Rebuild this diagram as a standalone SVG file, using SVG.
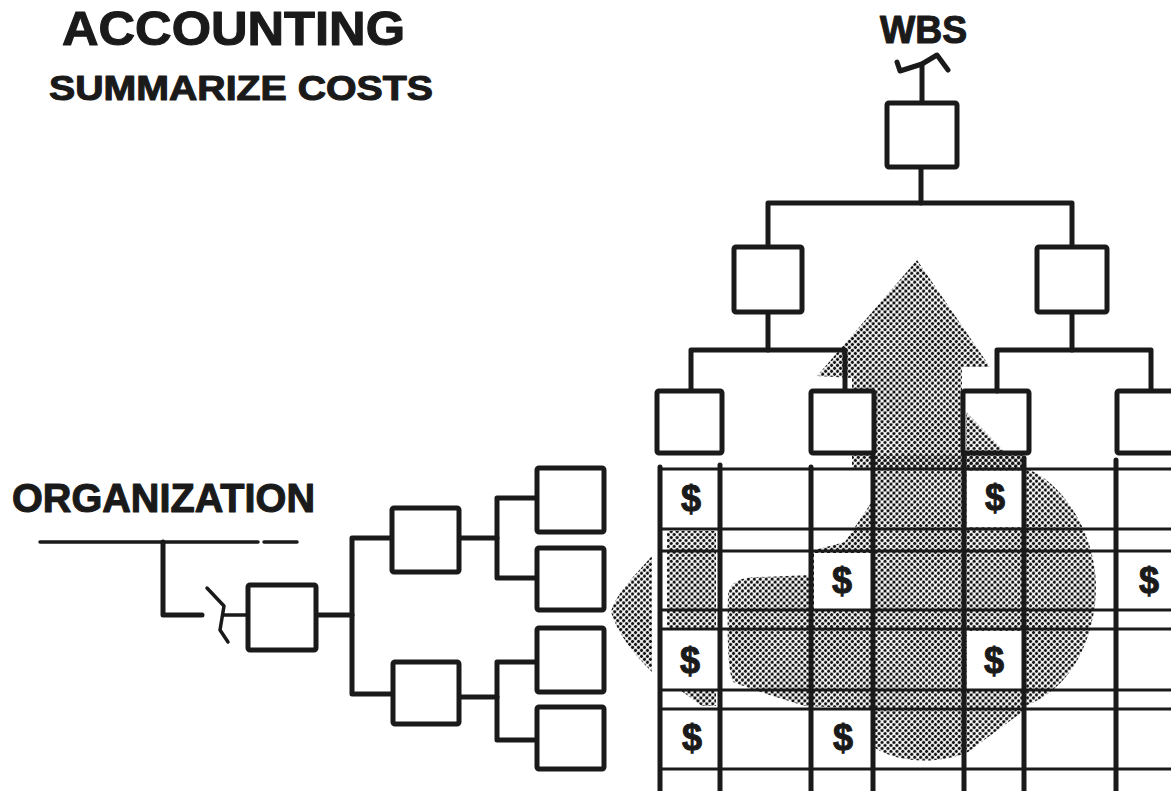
<svg xmlns="http://www.w3.org/2000/svg" width="1171" height="791" viewBox="0 0 1171 791">
<defs>
<pattern id="ht" width="4.2" height="4.2" patternUnits="userSpaceOnUse" patternTransform="rotate(45)">
<circle cx="2.1" cy="2.1" r="1.6" fill="#151515"/>
</pattern>
<style>
.t{font-family:"Liberation Sans",Arial,sans-serif;font-weight:bold;fill:#1a1a1a;stroke:#1a1a1a;stroke-width:1.1;stroke-linejoin:round}
.d{font-family:"Liberation Sans",Arial,sans-serif;font-weight:bold;font-size:36px;fill:#1a1a1a;text-anchor:middle;stroke:#1a1a1a;stroke-width:1}
.box{fill:#fff;stroke:#1a1a1a;stroke-width:5;stroke-linejoin:round}
.ln{fill:none;stroke:#1a1a1a;stroke-width:5;stroke-linecap:round;stroke-linejoin:round}
.thin{fill:none;stroke:#1a1a1a;stroke-width:3.5;stroke-linecap:round;stroke-linejoin:round}
.gv{stroke:#1a1a1a;stroke-width:5;stroke-linecap:round}
.gh{stroke:#1a1a1a;stroke-width:3;stroke-linecap:round}
.ht{fill:url(#ht);stroke:none}
.cell{fill:#fff;stroke:none}
</style>
</defs>
<rect width="1171" height="791" fill="#fff"/>

<g id="halftone">
<polygon class="ht" points="917,260 990,367 962,367 962,470 852,470 852,378 817,376"/>
<polygon class="ht" points="966,412 1004,451 966,451"/>
<rect class="ht" x="966" y="452" width="58" height="18"/>
<path class="ht" d="M873,455 L1022,455 L1025,468 C1060,480 1095,530 1096,585 C1096,640 1070,690 1025,706 L1022,712 L968,752 C940,764 900,764 875,748 L873,709 L805,706 C780,698 752,690 733,682 C728,670 727,640 728,595 C730,582 740,577 760,577 L811,575 L811,551 L845,542 L865,512 L873,500 Z"/>
<rect class="ht" x="667" y="531" width="49" height="98"/>
<polygon class="ht" points="680,690 716,690 716,706 702,706"/>
<path class="ht" d="M652,556 C635,575 615,595 611,612 C618,635 635,655 652,672 Z"/>
</g>

<g id="cells">
<rect class="cell" x="663" y="471" width="55" height="56"/>
<rect class="cell" x="967" y="471" width="55" height="56"/>
<rect class="cell" x="814" y="553" width="57" height="56"/>
<rect class="cell" x="663" y="631" width="55" height="58"/>
<rect class="cell" x="967" y="631" width="55" height="58"/>
<rect class="cell" x="663" y="711" width="55" height="57"/>
<rect class="cell" x="814" y="711" width="57" height="57"/>
</g>

<g id="grid">
<line class="gh" x1="660" y1="469" x2="1171" y2="469"/>
<line class="gh" x1="660" y1="529" x2="1171" y2="529"/>
<line class="gh" x1="660" y1="551" x2="1171" y2="551"/>
<line class="gh" x1="660" y1="610" x2="1171" y2="610"/>
<line class="gh" x1="660" y1="629" x2="1171" y2="629"/>
<line class="gh" x1="660" y1="690" x2="1171" y2="690"/>
<line class="gh" x1="660" y1="709" x2="1171" y2="709"/>
<line class="gh" x1="660" y1="769" x2="1171" y2="769"/>
<line class="gv" x1="660" y1="467" x2="660" y2="791"/>
<line class="gv" x1="720" y1="465" x2="720" y2="791"/>
<line class="gv" x1="811" y1="467" x2="811" y2="791"/>
<line class="gv" x1="873" y1="453" x2="873" y2="791"/>
<line class="gv" x1="964" y1="453" x2="964" y2="791"/>
<line class="gv" x1="1024" y1="458" x2="1024" y2="791"/>
<line class="gv" x1="1116" y1="460" x2="1116" y2="791"/>
</g>

<g id="dollars">
<text class="d" x="691" y="511">$</text>
<text class="d" x="995" y="510">$</text>
<text class="d" x="842" y="593">$</text>
<text class="d" x="1149" y="593">$</text>
<text class="d" x="690" y="673">$</text>
<text class="d" x="994" y="673">$</text>
<text class="d" x="692" y="750">$</text>
<text class="d" x="843" y="750">$</text>
</g>

<g id="connectors">
<path class="ln" d="M897,62 L900,71 L922,64 L937,55 L948,70"/>
<line class="ln" x1="922" y1="64" x2="922" y2="103"/>
<line class="ln" x1="921" y1="167" x2="921" y2="203"/>
<path class="ln" d="M768,247 L768,203 L1072,203 L1072,247"/>
<line class="ln" x1="768" y1="312" x2="768" y2="350"/>
<line class="ln" x1="1072" y1="312" x2="1072" y2="350"/>
<path class="ln" d="M691,391 L691,350 L845,350 L845,391"/>
<path class="ln" d="M997,391 L997,350 L1151,350 L1151,391"/>
<line class="thin" x1="40" y1="542" x2="258" y2="542"/>
<line class="thin" x1="264" y1="542" x2="297" y2="542"/>
<path class="ln" d="M163,542 L163,615 L202,615"/>
<path class="thin" d="M207,588 L224,606 L220,630 L228,642"/>
<line class="thin" x1="224" y1="615" x2="248" y2="615"/>
<line class="ln" x1="317" y1="615" x2="352" y2="615"/>
<path class="ln" d="M392,538 L352,538 L352,694 L393,694"/>
<line class="ln" x1="459" y1="538" x2="497" y2="538"/>
<path class="ln" d="M537,498 L497,498 L497,578 L537,578"/>
<line class="ln" x1="459" y1="697" x2="497" y2="697"/>
<path class="ln" d="M537,662 L497,662 L497,740 L537,740"/>
</g>

<g id="wbs-root"><rect class="box" x="887" y="103" width="70" height="64" rx="2"/></g>
<g id="wbs-l2a"><rect class="box" x="734" y="247" width="68" height="65" rx="2"/></g>
<g id="wbs-l2b"><rect class="box" x="1037" y="247" width="70" height="65" rx="2"/></g>
<g id="wbs-l3a"><rect class="box" x="657" y="391" width="65" height="62" rx="2"/></g>
<g id="wbs-l3b"><rect class="box" x="811" y="391" width="63" height="62" rx="2"/></g>
<g id="wbs-l3c"><rect class="box" x="963" y="391" width="66" height="62" rx="2" style="fill:none"/></g>
<g id="wbs-l3d"><rect class="box" x="1117" y="391" width="70" height="62" rx="2"/></g>

<g id="org-root"><rect class="box" x="248" y="585" width="68" height="65" rx="2"/></g>
<g id="org-a"><rect class="box" x="392" y="508" width="67" height="64" rx="2"/></g>
<g id="org-b"><rect class="box" x="393" y="662" width="66" height="62" rx="2"/></g>
<g id="org-a1"><rect class="box" x="537" y="468" width="67" height="64" rx="2"/></g>
<g id="org-a2"><rect class="box" x="537" y="548" width="67" height="62" rx="2"/></g>
<g id="org-b1"><rect class="box" x="537" y="628" width="67" height="64" rx="2"/></g>
<g id="org-b2"><rect class="box" x="537" y="707" width="67" height="62" rx="2"/></g>

<g id="titles">
<text class="t" x="62" y="45" font-size="48" textLength="343" lengthAdjust="spacingAndGlyphs">ACCOUNTING</text>
<text class="t" x="49" y="100" font-size="35" textLength="384" lengthAdjust="spacingAndGlyphs">SUMMARIZE COSTS</text>
<text class="t" x="880" y="43" font-size="38" textLength="87" lengthAdjust="spacingAndGlyphs">WBS</text>
<text class="t" x="12" y="512" font-size="40" textLength="303" lengthAdjust="spacingAndGlyphs">ORGANIZATION</text>
</g>
</svg>
